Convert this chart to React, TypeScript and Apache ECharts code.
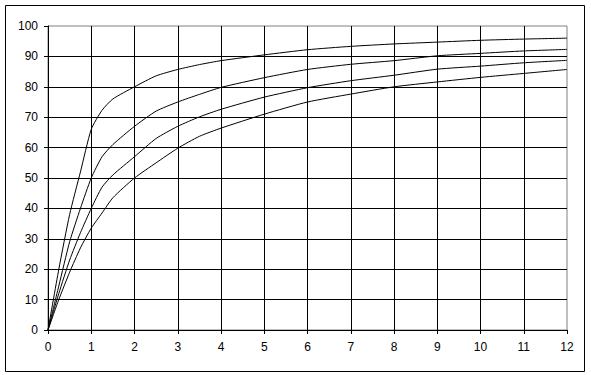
import React, { useEffect, useRef } from "react";
import * as echarts from "echarts";

const xValues = [0, 0.25, 0.5, 0.75, 1, 1.25, 1.5, 2, 2.5, 3, 3.5, 4, 5, 6, 7, 8, 9, 10, 11, 12];
const seriesA = [0, 20, 38, 52, 66, 72.3, 76, 80, 83.6, 85.7, 87.3, 88.6, 90.5, 92.2, 93.3, 94.1, 94.7, 95.3, 95.7, 96];
const seriesB = [0, 14.5, 29, 40, 50, 57, 61, 67, 72, 75, 77.5, 79.8, 83, 85.7, 87.4, 88.6, 90.2, 91, 91.8, 92.3];
const seriesC = [0, 12, 23, 32, 40, 47, 51, 57, 63, 67, 70.1, 72.6, 76.6, 79.7, 82, 83.8, 85.8, 86.8, 87.9, 88.7];
const seriesD = [0, 10, 19, 27, 33.5, 38.5, 43.5, 50, 55, 59.8, 63.7, 66.4, 71, 75, 77.6, 80, 81.6, 83.1, 84.4, 85.7];
const allSeries = [seriesA, seriesB, seriesC, seriesD];

export default function App() {
  const ref = useRef<HTMLDivElement>(null);
  useEffect(() => {
    if (!ref.current) return;
    const chart = echarts.init(ref.current, null, { renderer: "svg" });
    const font = { fontFamily: "Liberation Sans", fontSize: 12, color: "#000" };
    chart.setOption({
      animation: false,
      backgroundColor: "#fff",
      grid: {
        left: 48,
        right: 24,
        top: 26,
        bottom: 45,
        show: true,
        borderColor: "#808080",
        borderWidth: 1,
        backgroundColor: "transparent",
      },
      graphic: [
        {
          type: "rect",
          shape: { x: 5.5, y: 5.5, width: 579, height: 366 },
          style: { fill: "none", stroke: "#000", lineWidth: 1 },
          silent: true,
        },
      ],
      xAxis: {
        type: "value",
        min: 0,
        max: 12,
        interval: 1,
        axisLine: { show: true, lineStyle: { color: "#000", width: 1 } },
        axisTick: { show: true, length: 4, lineStyle: { color: "#000" } },
        axisLabel: { ...font, margin: 11 },
        splitLine: { show: true, showMaxLine: false, showMinLine: false, lineStyle: { color: "#000", width: 1 } },
      },
      yAxis: {
        type: "value",
        min: 0,
        max: 100,
        interval: 10,
        axisLine: { show: true, lineStyle: { color: "#000", width: 1 } },
        axisTick: { show: true, length: 4, lineStyle: { color: "#000" } },
        axisLabel: { ...font, margin: 10 },
        splitLine: { show: true, showMaxLine: false, showMinLine: false, lineStyle: { color: "#000", width: 1 } },
      },
      series: allSeries.map((s) => ({
        type: "line",
        data: xValues.map((x, i) => [x, s[i]]),
        showSymbol: false,
        symbol: "none",
        smooth: 0.2,
        lineStyle: { color: "#000", width: 1 },
      })),
    });
    return () => chart.dispose();
  }, []);
  return (
    <div
      ref={ref}
      style={{ position: "absolute", left: 0, top: 0, width: 591, height: 375 }}
    />
  );
}
